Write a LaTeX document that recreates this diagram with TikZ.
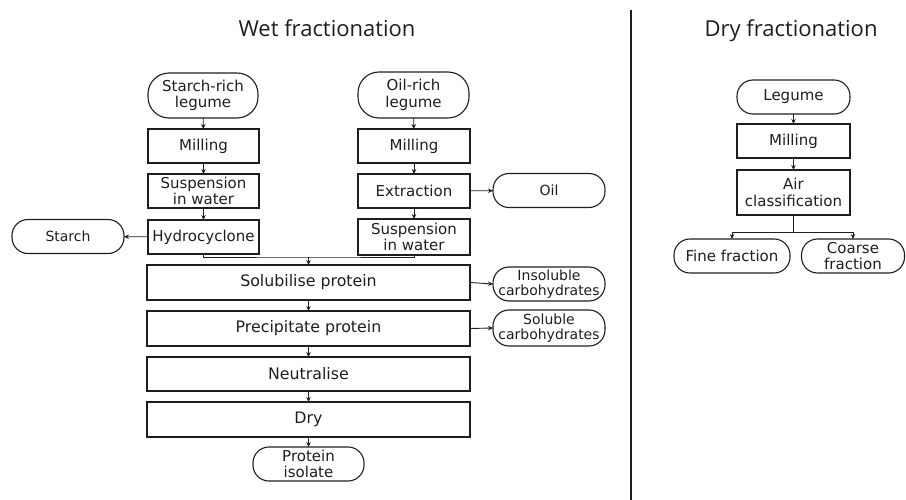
\documentclass[tikz,border=0pt]{standalone}
\usepackage{fontspec}
\setmainfont{DejaVu Sans}
\newfontfamily\titlefont{Open Sans}
\usetikzlibrary{arrows.meta}
\definecolor{ink}{HTML}{1E1E1E}
\begin{document}
\begin{tikzpicture}[x=1pt,y=-1pt,
  every node/.style={inner sep=0pt,outer sep=0pt,align=center,text=ink,font=\fontsize{15}{16.5}\selectfont},
  procbox/.style={draw=ink,line width=1.8pt,rectangle,minimum width=#1,minimum height=34pt},
  procbox/.default=111pt,
  trunkbox/.style={procbox=323pt,font=\fontsize{15.8}{17}\selectfont},
  termbox/.style={draw=ink,line width=1.1pt,rectangle,rounded corners=16pt,minimum width=112pt,minimum height=34pt},
  smalltext/.style={font=\fontsize{14}{14.5}\selectfont},
  flow/.style={draw=ink,line width=0.9pt,-{Stealth[length=5pt,width=4.5pt]}},
  plain/.style={draw=ink,line width=0.9pt},
  titletext/.style={font=\titlefont\fontsize{22}{24}\selectfont,anchor=base}
]
\useasboundingbox (0,0) rectangle (906,500);

% titles
\node[titletext] (t1) at (327,37) {Wet fractionation};
\node[titletext] (t2) at (791,37) {Dry fractionation};
\draw[draw=ink,line width=2.4pt] (631,10) coordinate (d1) -- (631,500) coordinate (d2);

% wet fractionation, left column
\node[termbox,minimum width=110pt,minimum height=45pt,rounded corners=21pt] (sr) at (203,95.5) {Starch-rich\\legume};
\node[procbox] (m1) at (203.5,146) {Milling};
\node[procbox] (s1) at (203.5,191) {Suspension\\in water};
\node[procbox] (hc) at (203.5,237) {Hydrocyclone};
\node[termbox,smalltext] (st) at (68,236.5) {Starch};

% right column
\node[termbox,minimum width=111pt,minimum height=46pt,rounded corners=21pt] (ol) at (413.5,95) {Oil-rich\\legume};
\node[procbox=112pt] (m2) at (414,146) {Milling};
\node[procbox=112pt] (ex) at (414,191) {Extraction};
\node[termbox,smalltext] (oil) at (549,190.5) {Oil};
\node[procbox=112pt,minimum height=36pt] (s2) at (414,237) {Suspension\\in water};

% common trunk
\node[trunkbox,minimum height=35pt] (sol) at (308.5,282.5) {Solubilise protein};
\node[trunkbox,minimum height=35pt] (pre) at (308.5,328.5) {Precipitate protein};
\node[trunkbox] (neu) at (308.5,374) {Neutralise};
\node[trunkbox,minimum height=35pt] (dry) at (308.5,419.5) {Dry};
\node[termbox,minimum width=111pt] (pi) at (308.5,464) {Protein\\isolate};
\node[termbox,smalltext] (ins) at (549,284) {Insoluble\\carbohydrates};
\node[termbox,minimum height=36pt,smalltext] (solc) at (549,328) {Soluble\\carbohydrates};

% dry fractionation
\node[termbox,minimum width=113pt] (leg) at (793.5,97) {Legume};
\node[procbox=113pt] (m3) at (793.5,141) {Milling};
\node[procbox=113pt,minimum height=45pt] (air) at (793.5,192.5) {Air\\classification};
\node[termbox,minimum width=116pt] (fine) at (732,256) {Fine fraction};
\node[termbox,minimum width=103pt] (coarse) at (853,256) {Coarse\\fraction};

% connectors, left
\draw[flow] (sr) -- (m1);
\draw[flow] (m1) -- (s1);
\draw[flow] (s1) -- (hc);
\draw[flow] (hc) -- (st);
% right
\draw[flow] (ol) -- (m2);
\draw[flow] (m2) -- (ex);
\draw[flow] (ex) -- (s2);
\draw[flow] (ex) -- (oil);
% merge
\coordinate (j) at (308.5,257);
\draw[plain] (hc.south) |- (j) -| (s2.south);
\draw[flow] (j) -- (sol.north);
\draw[flow] (sol) -- (pre);
\draw[flow] (pre) -- (neu);
\draw[flow] (neu) -- (dry);
\draw[flow] (dry) -- (pi);
\draw[flow] (sol.east) -- (ins.west);
\draw[flow] (pre.east) -- (solc.west);
% dry side
\draw[flow] (leg) -- (m3);
\draw[flow] (m3) -- (air);
\coordinate (k) at (793.5,232);
\draw[plain] (air.south) -- (k);
\draw[flow] (k) -| (fine.north);
\draw[flow] (k) -| (coarse.north);
\end{tikzpicture}
\end{document}
